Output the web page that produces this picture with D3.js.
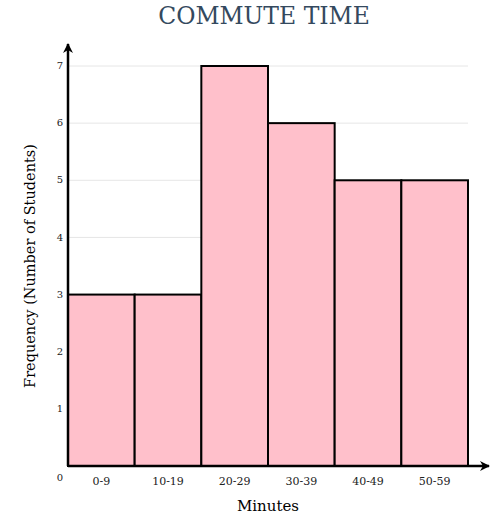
<!DOCTYPE html>
<html>
<head>
<meta charset="utf-8">
<script src="https://cdn.jsdelivr.net/npm/d3@7"></script>
<style>
  body { margin: 0; background: #fff; }
  text { font-family: Georgia, "DejaVu Serif", serif; }
</style>
</head>
<body>
<svg id="chart" width="498" height="517"></svg>
<script>
// commute time bins and how many students fell in each
const bins = ["0-9", "10-19", "20-29", "30-39", "40-49", "50-59"];
const counts = [3, 3, 7, 6, 5, 5];
const yTicks = [1, 2, 3, 4, 5, 6, 7];

const svg = d3.select("#chart");
const plotRight = 468;
const x0 = 68, yBase = 466;

const x = d3.scaleBand()
  .domain(bins)
  .range([x0, plotRight])
  .padding(0);

const y = d3.scaleLinear()
  .domain([0, 7])
  .range([yBase, 66]);

svg.append("defs").append("marker")
  .attr("id", "arrow")
  .attr("viewBox", "0 0 10 10")
  .attr("refX", 9).attr("refY", 5)
  .attr("markerWidth", 10).attr("markerHeight", 10)
  .attr("markerUnits", "userSpaceOnUse")
  .attr("orient", "auto")
  .append("path")
    .attr("d", "M0,0 L10,5 L0,10 L3,5 Z")
    .attr("fill", "#000");

// gridlines
svg.append("g")
  .selectAll("line")
  .data(yTicks)
  .join("line")
    .attr("x1", x0).attr("x2", plotRight)
    .attr("y1", d => y(d)).attr("y2", d => y(d))
    .attr("stroke", "#e6e6e6")
    .attr("stroke-width", 1);

// bars
svg.append("g")
  .selectAll("rect")
  .data(counts)
  .join("rect")
    .attr("x", (d, i) => x(bins[i]))
    .attr("y", d => y(d))
    .attr("width", x.bandwidth())
    .attr("height", d => yBase - y(d))
    .attr("fill", "#ffc0cb")
    .attr("stroke", "#000")
    .attr("stroke-width", 2);

// axes with arrow heads
svg.append("line")
  .attr("x1", x0).attr("y1", yBase)
  .attr("x2", x0).attr("y2", 44)
  .attr("stroke", "#000").attr("stroke-width", 2.5)
  .attr("marker-end", "url(#arrow)");

svg.append("line")
  .attr("x1", x0).attr("y1", yBase)
  .attr("x2", 489).attr("y2", yBase)
  .attr("stroke", "#000").attr("stroke-width", 2.5)
  .attr("marker-end", "url(#arrow)");

// y tick labels
svg.append("g")
  .selectAll("text")
  .data(yTicks)
  .join("text")
    .attr("x", 60)
    .attr("y", d => y(d))
    .attr("dy", "0.32em")
    .attr("text-anchor", "middle")
    .attr("font-size", 10)
    .attr("fill", "#222")
    .text(d => d);

svg.append("text")
  .attr("x", 60).attr("y", 481)
  .attr("text-anchor", "middle")
  .attr("font-size", 10)
  .attr("fill", "#222")
  .text("0");

// x tick labels
svg.append("g")
  .selectAll("text")
  .data(bins)
  .join("text")
    .attr("x", d => x(d) + x.bandwidth() / 2)
    .attr("y", 485)
    .attr("text-anchor", "middle")
    .attr("font-size", 11)
    .attr("fill", "#222")
    .text(d => d);

// titles
svg.append("text")
  .attr("x", 264).attr("y", 24)
  .attr("text-anchor", "middle")
  .attr("font-size", 23.5)
  .attr("fill", "#34495e")
  .text("COMMUTE TIME");

svg.append("text")
  .attr("x", 268).attr("y", 511)
  .attr("text-anchor", "middle")
  .attr("font-size", 15)
  .attr("fill", "#000")
  .text("Minutes");

svg.append("text")
  .attr("transform", "translate(35,266) rotate(-90)")
  .attr("text-anchor", "middle")
  .attr("font-size", 14.5)
  .attr("fill", "#000")
  .text("Frequency (Number of Students)");
</script>
</body>
</html>
